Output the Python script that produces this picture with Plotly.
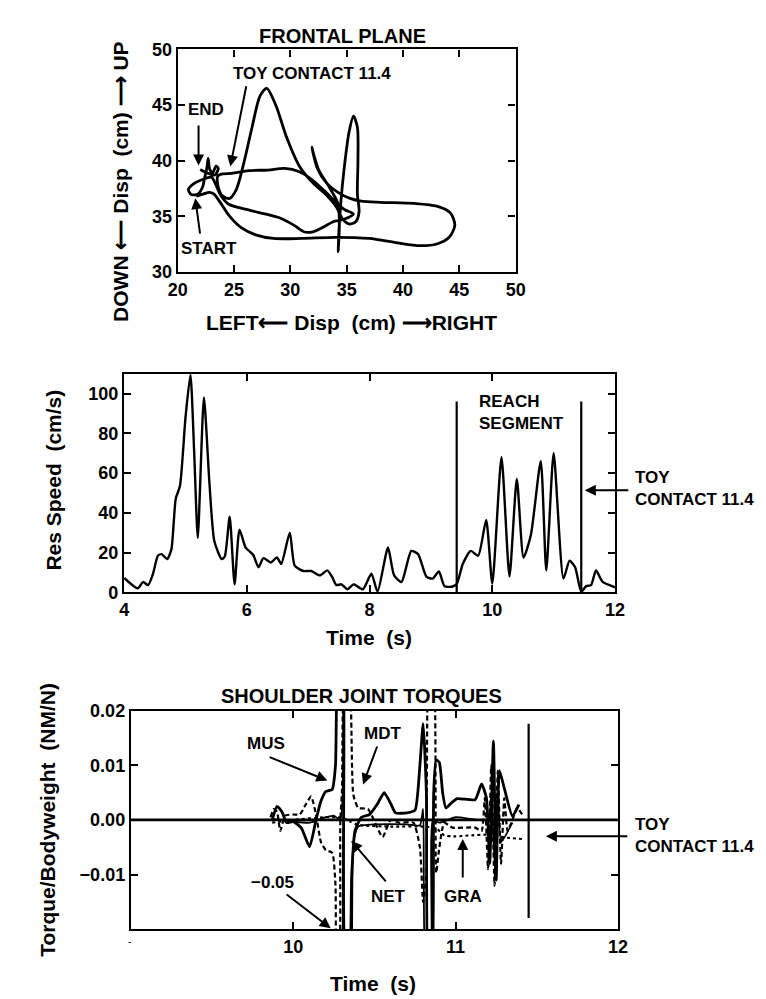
import plotly.graph_objects as go

# ---------------- Panel 1: frontal plane trajectory ----------------
traj_x = [21.65, 22.3, 22.8, 23.2, 23.8, 24.6, 25.6, 27.0, 28.5, 31.0, 34.0, 37.0, 39.5, 41.5, 43.0, 44.1, 44.6, 44.2,
          43.0, 41.0, 38.0, 36.3, 35.3, 34.3, 33.2, 32.4, 31.9, 32.5, 33.4, 34.2, 34.35, 34.25, 34.3, 34.5, 34.8, 35.2,
          35.6, 35.95, 36.0, 35.95, 36.1, 35.8, 35.2, 34.6, 34.1, 33.2, 32.0, 30.8, 29.7, 28.7, 27.9, 27.3, 26.6, 25.8,
          25.2, 24.6, 24.0, 23.6, 23.55, 24.0, 24.8, 26.3, 28.0, 29.5, 30.8, 31.9, 33.0, 34.0, 34.8, 35.6, 34.7, 33.8,
          32.9, 32.0, 31.2, 30.3, 28.9, 26.5, 24.5, 23.8, 23.4, 23.0, 22.2, 21.4, 20.95, 21.2, 21.8, 22.2, 22.4, 22.6,
          22.7, 22.85, 23.1, 23.4, 23.6, 23.3, 22.6, 22.0]
traj_y = [36.8, 37.0, 37.15, 37.0, 36.2, 35.0, 34.0, 33.3, 33.0, 33.0, 33.1, 33.0, 32.6, 32.35, 32.5, 33.1, 34.2, 35.3,
          35.9, 36.15, 36.25, 36.35, 36.6, 37.1, 38.0, 39.3, 41.2, 39.2, 37.7, 36.2, 34.5, 31.8, 33.5, 36.5, 39.5, 42.5,
          44.0, 43.0, 40.0, 37.0, 35.4, 34.5, 34.3, 34.8, 35.8, 36.9, 38.0, 39.5, 42.0, 45.0, 46.5, 45.8, 43.0, 39.5,
          37.4, 36.6, 36.8, 37.6, 38.6, 38.8, 38.85, 39.1, 39.15, 39.3, 39.0, 38.3, 37.3, 36.3, 35.6, 35.2, 34.7, 34.5,
          34.0, 33.6, 33.6, 34.2, 34.9, 35.5, 36.1, 36.9, 37.8, 38.5, 38.3, 37.9, 37.4, 36.95, 37.0, 37.6, 38.5, 39.4,
          40.2, 39.2, 38.9, 39.5, 39.3, 38.7, 38.9, 39.2]

# ---------------- Panel 2: resultant speed ----------------
speed_t = [4.0, 4.22, 4.31, 4.39, 4.47, 4.55, 4.61, 4.70, 4.77, 4.84, 4.91, 5.0, 5.08, 5.14, 5.2, 5.3, 5.39, 5.47,
           5.59, 5.64, 5.72, 5.8, 5.88, 5.98, 6.1, 6.19, 6.27, 6.39, 6.49, 6.56, 6.7, 6.78, 6.92, 7.05, 7.19, 7.31,
           7.39, 7.46, 7.54, 7.64, 7.74, 7.89, 8.03, 8.13, 8.3, 8.4, 8.52, 8.68, 8.79, 8.93, 9.03, 9.13, 9.22, 9.34,
           9.42, 9.52, 9.65, 9.77, 9.9, 10.0, 10.15, 10.28, 10.4, 10.51, 10.63, 10.79, 10.88, 11.0, 11.16, 11.26,
           11.35, 11.45, 11.53, 11.61, 11.69, 11.8, 12.0]
speed_v = [7.2, 2.0, 5.2, 3.6, 9.3, 18.4, 19.2, 16.7, 21.6, 47, 53.6, 88, 109.5, 71.6, 27.4, 98, 55, 25.7,
           16.7, 18, 38, 4, 31.5, 22.5, 19, 12.6, 17.2, 15, 17.5, 14.3, 30, 13.4, 10.7, 10.7, 8.5, 11,
           7.7, 3.6, 4, 1.5, 4, 1.5, 9.3, 0.3, 22.5, 8.5, 5.2, 20.8, 19.2, 7.7, 6.9, 10.5, 3.1, 2.8,
           4.1, 14.3, 20.8, 18.4, 36.4, 4.4, 68, 8, 57, 17.5, 29, 66, 11, 70, 6.9, 15.9,
           12.6, 0.3, 3.1, 3.6, 11, 5.2, 2.5]
reach_bounds = [9.42, 11.45]
reach_top = 96

# ---------------- Panel 3: shoulder joint torques ----------------
mus_t = [9.87, 9.90, 9.93, 9.96, 10.0, 10.05, 10.10, 10.14, 10.17, 10.20, 10.24, 10.26, 10.28, 10.30, 10.32, 10.34,
         10.36, 10.38, 10.42, 10.47, 10.52, 10.56, 10.60, 10.63, 10.70, 10.75, 10.78, 10.80, 10.82, 10.835, 10.85,
         10.865, 10.88, 10.90, 10.92, 10.94, 10.97, 11.01, 11.12, 11.16, 11.19, 11.21, 11.233, 11.25, 11.27, 11.30,
         11.35, 11.39]
mus_v = [0.0, 0.0025, 0.0015, -0.0005, -0.0003, -0.0015, -0.0049, 0.0, 0.0034, 0.0052, 0.0056, 0.010, 0.03, 0.03,
         -0.03, -0.03, -0.01, -0.002, 0.0005, 0.001, 0.003, 0.005, 0.003, 0.0013, 0.0013, 0.0018, 0.010, 0.0176,
         0.005, -0.03, -0.03, 0.005, 0.011, 0.0105, 0.005, 0.0022, 0.003, 0.0039, 0.0037, 0.0066, 0.004, -0.008,
         0.0144, -0.011, 0.009, 0.0058, 0.0007, 0.0028]
mdt_t = [9.86, 9.88, 9.90, 9.92, 9.95, 10.0, 10.04, 10.08, 10.11, 10.14, 10.17, 10.20, 10.24, 10.26, 10.27, 10.28,
         10.29, 10.30, 10.32, 10.34, 10.37, 10.40, 10.46, 10.55, 10.60, 10.65, 10.74, 10.78, 10.80, 10.82, 10.84,
         10.86, 10.88, 10.90, 10.93, 10.98, 11.12, 11.16, 11.18, 11.20, 11.22, 11.24, 11.26, 11.28, 11.30, 11.32,
         11.35, 11.38, 11.41]
mdt_v = [0.0005, 0.002, 0.0015, -0.002, 0.0008, 0.001, 0.001, 0.003, 0.0043, 0.001, -0.004, -0.0055, -0.006,
         -0.012, -0.03, -0.03, 0.0, 0.0053, 0.03, 0.03, 0.0046, 0.0022, 0.002, -0.0031, 0.0, -0.0005, -0.0005,
         -0.005, -0.015, -0.01, 0.03, 0.03, -0.0097, -0.005, -0.0005, -0.0014, -0.0014, -0.002, 0.004, -0.009,
         0.010, -0.012, 0.009, -0.008, 0.004, -0.002, 0.0, 0.0022, 0.001]
net_t = [9.87, 10.0, 10.1, 10.2, 10.25, 10.29, 10.31, 10.33, 10.35, 10.37, 10.40, 10.5, 10.7, 10.78, 10.80, 10.82,
         10.845, 10.86, 10.9, 11.0, 11.2, 11.22, 11.24, 11.26, 11.28, 11.35]
net_v = [0.0002, -0.0003, -0.0005, 0.0005, 0.0008, 0.0, 0.03, -0.03, -0.03, -0.004, -0.0012, -0.0008, -0.0008,
         -0.001, 0.002, -0.03, -0.03, 0.0, -0.0005, 0.0005, 0.0, 0.005, -0.008, 0.007, -0.004, -0.0005]
gra_t = [9.87, 10.0, 10.2, 10.3, 10.35, 10.4, 10.6, 10.8, 10.88, 10.93, 11.0, 11.1, 11.2, 11.3, 11.42]
gra_v = [-0.0005, 0.0, 0.0005, 0.0004, -0.0003, -0.0009, -0.0012, -0.0012, -0.0015, -0.0028, -0.003, -0.0028,
         -0.0027, -0.0032, -0.0035]
contact_t = 11.45
contact_span = [-0.0179, 0.0176]

FONT = "Liberation Sans, Arial, sans-serif"
W, H = 766, 999


def px(x):
    return x / W


def py(y):
    return 1 - y / H


fig = go.Figure()
blk = "black"

fig.add_trace(go.Scatter(x=traj_x, y=traj_y, mode="lines", xaxis="x", yaxis="y",
                         line=dict(color=blk, width=2.8, shape="spline", smoothing=0.8)))

fig.add_trace(go.Scatter(x=speed_t, y=speed_v, mode="lines", xaxis="x2", yaxis="y2",
                         line=dict(color=blk, width=2.4, shape="spline", smoothing=0.6)))
for b in reach_bounds:
    fig.add_trace(go.Scatter(x=[b, b], y=[0, reach_top], mode="lines", xaxis="x2", yaxis="y2",
                             line=dict(color=blk, width=2.2)))

fig.add_trace(go.Scatter(x=[9, 12], y=[0, 0], mode="lines", xaxis="x3", yaxis="y3",
                         line=dict(color=blk, width=2.8)))
fig.add_trace(go.Scatter(x=gra_t, y=gra_v, mode="lines", xaxis="x3", yaxis="y3",
                         line=dict(color=blk, width=2.2, dash="dot", shape="spline", smoothing=0.6)))
fig.add_trace(go.Scatter(x=net_t, y=net_v, mode="lines", xaxis="x3", yaxis="y3",
                         line=dict(color=blk, width=1.8, shape="spline", smoothing=0.5)))
fig.add_trace(go.Scatter(x=mdt_t, y=mdt_v, mode="lines", xaxis="x3", yaxis="y3",
                         line=dict(color=blk, width=2.2, dash="5px,3px", shape="spline", smoothing=0.5)))
fig.add_trace(go.Scatter(x=mus_t, y=mus_v, mode="lines", xaxis="x3", yaxis="y3",
                         line=dict(color=blk, width=2.8, shape="spline", smoothing=0.5)))
fig.add_trace(go.Scatter(x=[contact_t, contact_t], y=contact_span, mode="lines", xaxis="x3", yaxis="y3",
                         line=dict(color=blk, width=2.2)))

tickfont = dict(family=FONT, size=18, color=blk, weight="bold")
axis_common = dict(showline=True, linewidth=2.4, linecolor=blk, mirror="ticks", ticks="inside",
                   ticklen=7, tickwidth=2, tickcolor=blk, showgrid=False, zeroline=False,
                   tickfont=tickfont, fixedrange=True)

fig.update_layout(
    width=W, height=H, margin=dict(l=0, r=0, t=0, b=0),
    paper_bgcolor="white", plot_bgcolor="white", showlegend=False,
    xaxis=dict(domain=[px(164), px(511)], range=[20, 50], tickvals=[20, 25, 30, 35, 40, 45, 50],
               anchor="y", **axis_common),
    yaxis=dict(domain=[py(259), py(32)], range=[30, 50], tickvals=[30, 35, 40, 45, 50],
               anchor="x", **axis_common),
    xaxis2=dict(domain=[px(109), px(613)], range=[4, 12], tickvals=[4, 6, 8, 10, 12],
                anchor="y2", **axis_common),
    yaxis2=dict(domain=[py(586), py(363)], range=[0, 110], tickvals=[0, 20, 40, 60, 80, 100],
                anchor="x2", **axis_common),
    xaxis3=dict(domain=[px(116), px(616)], range=[9, 12], tickvals=[10, 11, 12],
                anchor="y3", **axis_common),
    yaxis3=dict(domain=[py(930), py(706.7)], range=[-0.02, 0.02], tickvals=[-0.01, 0, 0.01, 0.02],
                ticktext=["\u22120.01", "0.00", "0.01", "0.02"], anchor="x3", **axis_common),
)

ann = []
lab = dict(family=FONT, size=17, color=blk, weight="bold")
ttl = dict(family=FONT, size=20, color=blk, weight="bold")
axt = dict(family=FONT, size=21, color=blk, weight="bold")


def text(x, y, s, xref, yref, font=lab, angle=0, xanchor="center"):
    ann.append(dict(x=x, y=y, text=s, xref=xref, yref=yref, showarrow=False, font=font,
                    textangle=angle, xanchor=xanchor, yanchor="middle", align="left"))


def arrow(xh, yh, xt, yt, xr, yr):
    ann.append(dict(x=xh, y=yh, ax=xt, ay=yt, xref=xr, yref=yr, axref=xr, ayref=yr, text="",
                    showarrow=True, arrowhead=2, arrowsize=1.1, arrowwidth=2, arrowcolor=blk,
                    standoff=0, startstandoff=0))


def arrow_px(xh, yh, dx, dy):
    ann.append(dict(x=px(xh), y=py(yh), ax=dx, ay=dy, xref="paper", yref="paper", axref="pixel",
                    ayref="pixel", text="", showarrow=True, arrowhead=2, arrowsize=1.1, arrowwidth=2,
                    arrowcolor=blk, standoff=0, startstandoff=0))


# panel 1 labels
text(px(333), py(18), "FRONTAL PLANE", "paper", "paper", ttl)
text(px(105), py(167), "DOWN \u27f5 Disp  (cm) \u27f6 UP", "paper", "paper", axt, angle=-90)
text(px(342), py(311), "LEFT\u27f5 Disp  (cm) \u27f6RIGHT", "paper", "paper", axt)
text(31.88, 47.85, "TOY CONTACT 11.4", "x", "y")
arrow(24.67, 39.47, 26.11, 46.82, "x", "y")
text(22.51, 44.62, "END", "x", "y")
arrow(21.85, 39.56, 21.85, 43.3, "x", "y")
text(22.8, 32.1, "START", "x", "y")
arrow(21.56, 36.62, 22.0, 33.3, "x", "y")

# panel 2 labels
text(px(36), py(472), "Res Speed  (cm/s)", "paper", "paper", axt, angle=-90)
text(px(360), py(632), "Time  (s)", "paper", "paper", axt)
text(10.47, 90.3, "REACH<br>SEGMENT", "x2", "y2")
text(px(632), py(480), "TOY<br>CONTACT 11.4", "paper", "paper", xanchor="left")
arrow_px(582, 482, 45, 0)

# panel 3 labels
text(px(353), py(692), "SHOULDER JOINT TORQUES", "paper", "paper", ttl)
text(px(30), py(818), "Torque/Bodyweight  (NM/N)", "paper", "paper", axt, angle=-90)
text(px(365), py(985), "Time  (s)", "paper", "paper", axt)
text(px(632), py(834), "TOY<br>CONTACT 11.4", "paper", "paper", xanchor="left")
arrow_px(542, 835, 83, 0)
text(px(115), py(942), "-", "paper", "paper", dict(family=FONT, size=10, color=blk))
text(9.83, 0.014, "MUS", "x3", "y3")
arrow(10.21, 0.0072, 9.845, 0.0116, "x3", "y3")
text(10.547, 0.0158, "MDT", "x3", "y3")
arrow(10.43, 0.0065, 10.52, 0.0137, "x3", "y3")
text(10.585, -0.014, "NET", "x3", "y3")
arrow(10.357, -0.0038, 10.578, -0.0115, "x3", "y3")
text(11.044, -0.014, "GRA", "x3", "y3")
arrow(11.044, -0.0035, 11.044, -0.0108, "x3", "y3")
text(9.87, -0.0115, "\u22120.05", "x3", "y3")
arrow(10.23, -0.0198, 9.95, -0.0134, "x3", "y3")

fig.update_layout(annotations=ann)
fig.write_html("out.html")
